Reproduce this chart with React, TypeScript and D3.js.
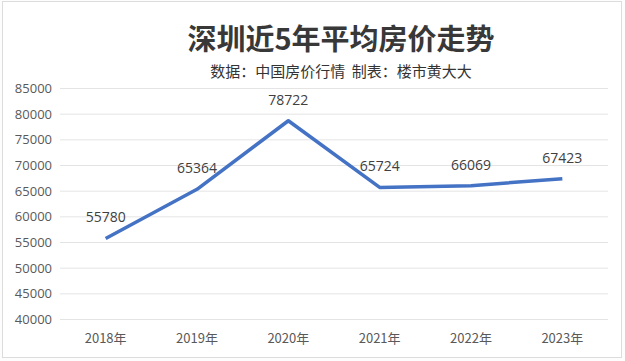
import React from "react";
import * as d3 from "d3";

const years = ["2018年", "2019年", "2020年", "2021年", "2022年", "2023年"];
const prices = [55780, 65364, 78722, 65724, 66069, 67423];
const yTicks = [40000, 45000, 50000, 55000, 60000, 65000, 70000, 75000, 80000, 85000];
const title = "深圳近5年平均房价走势";
const subtitle = "数据：中国房价行情  制表：楼市黄大大";

const W = 625;
const H = 361;

export default function App() {
  const x = d3.scaleBand<string>().domain(years).range([60, 608]);
  const y = d3.scaleLinear().domain([40000, 85000]).range([319.5, 88.5]);
  const line = d3
    .line<number>()
    .x((_, i) => (x(years[i]) as number) + x.bandwidth() / 2)
    .y((d) => y(d));
  const cjk = "'Noto Sans CJK SC', 'Noto Sans', sans-serif";
  const num = "'Open Sans', 'Noto Sans', sans-serif";
  return (
    <svg
      width={W}
      height={H}
      style={{ position: "absolute", left: 0, top: 0, background: "#fdfdfd" }}
    >
      <rect x={2.5} y={1.5} width={619} height={356} fill="#ffffff" stroke="#dcdcdc" strokeWidth={1} />
      <text x={341} y={50} textAnchor="middle" fontFamily={cjk} fontSize={29} fontWeight={700} fill="#383838">
        {title}
      </text>
      <text x={341} y={77} textAnchor="middle" fontFamily={cjk} fontSize={15} fill="#333333" style={{ whiteSpace: "pre" }}>
        {subtitle}
      </text>
      {yTicks.map((t) => (
        <g key={t}>
          <line x1={60} x2={608} y1={y(t)} y2={y(t)} stroke="#e4e4e4" strokeWidth={1} />
          <text x={52} y={y(t)} dy="0.35em" textAnchor="end" fontFamily={num} fontSize={13} fill="#595959">
            {t}
          </text>
        </g>
      ))}
      {years.map((yr) => (
        <text
          key={yr}
          x={(x(yr) as number) + x.bandwidth() / 2}
          y={338}
          dy="0.35em"
          textAnchor="middle"
          fontFamily={cjk}
          fontSize={13}
          fill="#595959"
        >
          {yr}
        </text>
      ))}
      <path d={line(prices) || ""} fill="none" stroke="#4472C4" strokeWidth={3.5} strokeLinejoin="round" />
      {prices.map((p, i) => (
        <text
          key={i}
          x={(x(years[i]) as number) + x.bandwidth() / 2}
          y={y(p) - 21}
          dy="0.35em"
          textAnchor="middle"
          fontFamily={num}
          fontSize={14}
          fill="#404040"
        >
          {p}
        </text>
      ))}
    </svg>
  );
}
